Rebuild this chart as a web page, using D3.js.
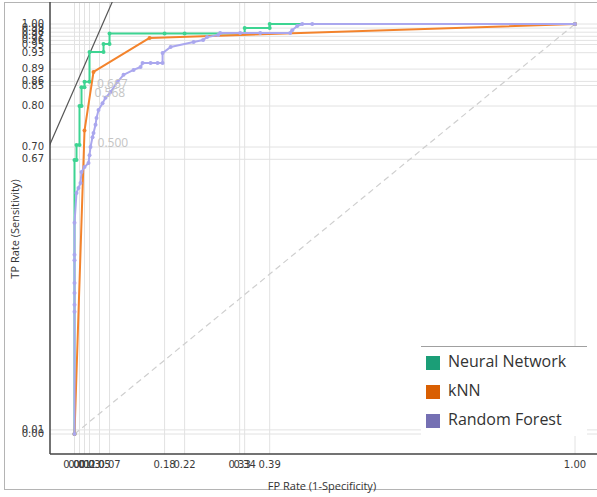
<!DOCTYPE html>
<html>
<head>
<meta charset="utf-8">
<script src="https://cdn.jsdelivr.net/npm/d3@7"></script>
<style>
  body { margin: 0; background: #fff; }
  svg { display: block; }
</style>
</head>
<body>
<div id="chart"></div>
<script>
// ROC points, [FP rate, TP rate]
const nnPoints = [
  [0, 0], [0, 0.668], [0.004, 0.668], [0.004, 0.705], [0.01, 0.705], [0.01, 0.80],
  [0.014, 0.80], [0.014, 0.846], [0.02, 0.846], [0.02, 0.859], [0.03, 0.859],
  [0.03, 0.932], [0.058, 0.932], [0.058, 0.951], [0.07, 0.951], [0.07, 0.977],
  [0.18, 0.977], [0.22, 0.977], [0.34, 0.977], [0.34, 0.99], [0.39, 0.99],
  [0.39, 1], [1, 1]
];
const knnPoints = [
  [0, 0], [0.02, 0.74], [0.038, 0.883], [0.15, 0.966], [1, 1]
];
const rfPoints = [
  [0, 0], [0, 0.298], [0, 0.315], [0, 0.344], [0, 0.368], [0, 0.424], [0, 0.437],
  [0, 0.515], [0.004, 0.588], [0.008, 0.600], [0.012, 0.612], [0.014, 0.639],
  [0.020, 0.651], [0.028, 0.661], [0.030, 0.680], [0.032, 0.700], [0.036, 0.724],
  [0.038, 0.734], [0.042, 0.754], [0.044, 0.771], [0.048, 0.790], [0.056, 0.807],
  [0.062, 0.820], [0.072, 0.834], [0.086, 0.859], [0.098, 0.876], [0.118, 0.888],
  [0.132, 0.895], [0.136, 0.905], [0.152, 0.905], [0.166, 0.905], [0.176, 0.905],
  [0.176, 0.929], [0.192, 0.944], [0.238, 0.956], [0.257, 0.961], [0.265, 0.968],
  [0.287, 0.973], [0.291, 0.978], [0.331, 0.978], [0.371, 0.978], [0.431, 0.978],
  [0.435, 0.985], [0.445, 0.995], [0.455, 1], [0.475, 1], [1, 1]
];
const seriesNames = ["Neural Network", "kNN", "Random Forest"];
const xTickValues = [0.00, 0.01, 0.02, 0.03, 0.05, 0.07, 0.18, 0.22, 0.33, 0.34, 0.39, 1.00];
const yTickValues = [0.00, 0.01, 0.67, 0.70, 0.80, 0.85, 0.86, 0.89, 0.93, 0.95, 0.96, 0.97, 0.98, 0.99, 1.00];
const thresholdLabels = [
  { text: "0.667", fpr: 0.045, tpr: 0.851 },
  { text: "0.568", fpr: 0.040, tpr: 0.830 },
  { text: "0.500", fpr: 0.046, tpr: 0.709 }
];
// iso-performance line: goes through a point with a given slope
const isoPoint = [0.03, 0.927];
const isoSlope = 2.79;

const width = 597, height = 497;
const lineColours = ["#3dd492", "#f3832c", "#aaa7ee"];
const legendColours = ["#1b9e77", "#d95f02", "#7570b3"];
const axisLeft = 50, axisBottom = 454, plotTop = 2, plotRight = 597;

const svg = d3.select("#chart").append("svg")
  .attr("width", width)
  .attr("height", height);

// outer frame
svg.append("rect")
  .attr("x", 4.5).attr("y", 2.5)
  .attr("width", 610).attr("height", 487)
  .attr("fill", "none")
  .attr("stroke", "#b4b4b4");

const xScale = d3.scaleLinear().domain([0, 1]).range([74.5, 575]);
const yScale = d3.scaleLinear().domain([0, 1]).range([434, 24]);

svg.append("clipPath").attr("id", "plotClip")
  .append("rect")
  .attr("x", axisLeft).attr("y", plotTop)
  .attr("width", plotRight - axisLeft).attr("height", axisBottom - plotTop);

// Gridlines
svg.selectAll(".vGrid")
  .data(xTickValues)
  .enter()
  .append("line")
  .attr("class", "vGrid")
  .attr("x1", d => xScale(d)).attr("x2", d => xScale(d))
  .attr("y1", plotTop + 1).attr("y2", axisBottom)
  .attr("stroke", "#e2e2e2")
  .attr("stroke-width", 1);

svg.selectAll(".hGrid")
  .data(yTickValues)
  .enter()
  .append("line")
  .attr("class", "hGrid")
  .attr("x1", axisLeft).attr("x2", plotRight)
  .attr("y1", d => yScale(d)).attr("y2", d => yScale(d))
  .attr("stroke", "#e2e2e2")
  .attr("stroke-width", 1);

const plot = svg.append("g").attr("clip-path", "url(#plotClip)");

// chance diagonal
plot.append("line")
  .attr("x1", xScale(0)).attr("y1", yScale(0))
  .attr("x2", xScale(1)).attr("y2", yScale(1))
  .attr("stroke", "#cfcfcf")
  .attr("stroke-width", 1.2)
  .attr("stroke-dasharray", "6 4");

// iso-performance line
const isoX0 = -0.2, isoX1 = 0.2;
plot.append("line")
  .attr("x1", xScale(isoX0))
  .attr("y1", yScale(isoPoint[1] + isoSlope * (isoX0 - isoPoint[0])))
  .attr("x2", xScale(isoX1))
  .attr("y2", yScale(isoPoint[1] + isoSlope * (isoX1 - isoPoint[0])))
  .attr("stroke", "#555")
  .attr("stroke-width", 1.2);

// Curves, in legend order (RF ends up on top)
const curves = [nnPoints, knnPoints, rfPoints];
const line = d3.line().x(d => xScale(d[0])).y(d => yScale(d[1]));
[0, 1, 2].forEach(i => {
  plot.append("path")
    .datum(curves[i])
    .attr("d", line)
    .attr("fill", "none")
    .attr("stroke", lineColours[i])
    .attr("stroke-width", 2)
    .attr("stroke-linejoin", "round");

  plot.selectAll(".marker" + i)
    .data(curves[i])
    .enter()
    .append("circle")
    .attr("class", "marker" + i)
    .attr("cx", d => xScale(d[0]))
    .attr("cy", d => yScale(d[1]))
    .attr("r", 2)
    .attr("fill", lineColours[i]);
});

// Threshold labels
plot.selectAll(".threshLabel")
  .data(thresholdLabels)
  .enter()
  .append("text")
  .attr("class", "threshLabel")
  .attr("x", d => xScale(d.fpr))
  .attr("y", d => yScale(d.tpr))
  .attr("dominant-baseline", "middle")
  .attr("fill", "#c4c4c4")
  .style("font-family", "'Open Sans', sans-serif")
  .style("font-size", "12px")
  .text(d => d.text);

// Axis lines
svg.append("line")
  .attr("x1", axisLeft).attr("x2", axisLeft)
  .attr("y1", plotTop).attr("y2", axisBottom)
  .attr("stroke", "#444").attr("stroke-width", 1.5);
svg.append("line")
  .attr("x1", axisLeft).attr("x2", plotRight)
  .attr("y1", axisBottom).attr("y2", axisBottom)
  .attr("stroke", "#444").attr("stroke-width", 1.5);

// Tick labels
svg.selectAll(".xTick")
  .data(xTickValues)
  .enter()
  .append("text")
  .attr("class", "xTick")
  .attr("x", d => xScale(d))
  .attr("y", 468)
  .attr("text-anchor", "middle")
  .attr("fill", "#3a3a3a")
  .style("font-family", "'DejaVu Sans', sans-serif")
  .style("font-size", "10px")
  .text(d => d3.format(".2f")(d));

svg.selectAll(".yTick")
  .data(yTickValues)
  .enter()
  .append("text")
  .attr("class", "yTick")
  .attr("x", 44)
  .attr("y", d => yScale(d))
  .attr("text-anchor", "end")
  .attr("dominant-baseline", "middle")
  .attr("fill", "#3a3a3a")
  .style("font-family", "'DejaVu Sans', sans-serif")
  .style("font-size", "10px")
  .text(d => d3.format(".2f")(d));

// Axis titles
svg.append("text")
  .attr("x", 322).attr("y", 490)
  .attr("text-anchor", "middle")
  .attr("fill", "#333")
  .style("font-family", "'Open Sans', sans-serif")
  .style("font-size", "11px")
  .text("FP Rate (1-Specificity)");

svg.append("text")
  .attr("transform", "translate(19,229) rotate(-90)")
  .attr("text-anchor", "middle")
  .attr("fill", "#333")
  .style("font-family", "'Open Sans', sans-serif")
  .style("font-size", "11px")
  .text("TP Rate (Sensitivity)");

// Legend
const legend = svg.append("g").attr("transform", "translate(421,346)");
legend.append("rect")
  .attr("x", 0).attr("y", 0)
  .attr("width", 166).attr("height", 90)
  .attr("fill", "#fff");
legend.append("line")
  .attr("x1", 0).attr("x2", 166)
  .attr("y1", 0.5).attr("y2", 0.5)
  .attr("stroke", "#a0a0a0");

const legendItems = legend.selectAll(".legendItem")
  .data(seriesNames)
  .enter()
  .append("g")
  .attr("class", "legendItem")
  .attr("transform", (d, i) => `translate(0,${17 + i * 29})`);

legendItems.append("rect")
  .attr("x", 5).attr("y", -7)
  .attr("width", 14).attr("height", 14)
  .attr("fill", (d, i) => legendColours[i]);

legendItems.append("text")
  .attr("x", 27).attr("y", 0)
  .attr("dominant-baseline", "middle")
  .attr("fill", "#333")
  .style("font-family", "'Open Sans', sans-serif")
  .style("font-size", "16px")
  .text(d => d);
</script>
</body>
</html>
